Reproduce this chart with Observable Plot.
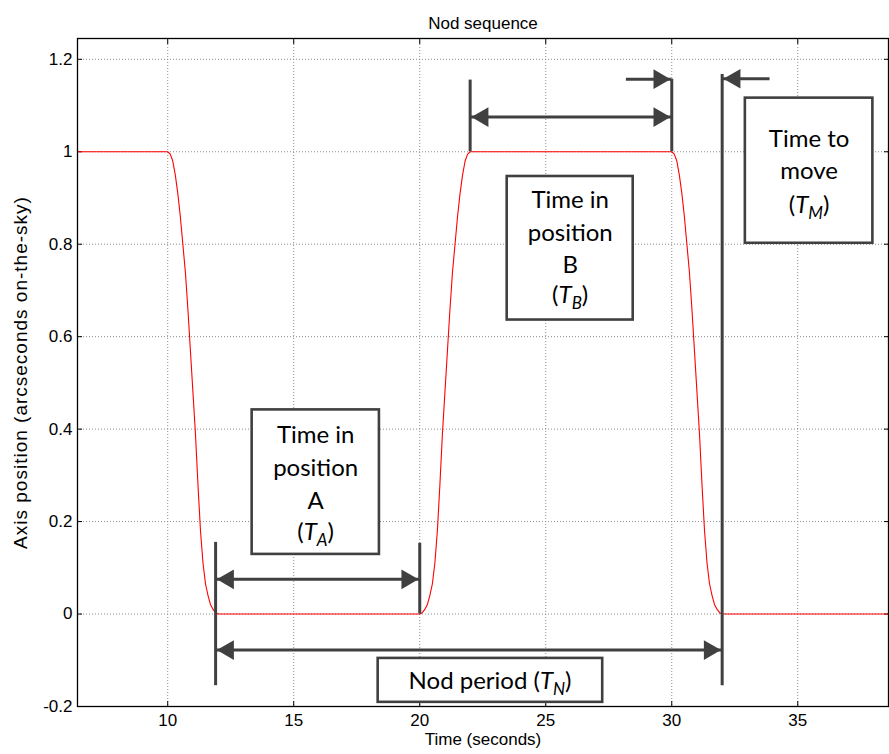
<!DOCTYPE html>
<html><head><meta charset="utf-8">
<script src="https://cdn.jsdelivr.net/npm/d3@7"></script>
<script src="https://cdn.jsdelivr.net/npm/@observablehq/plot@0.6"></script>
<style>body{margin:0;background:#fff;} #chart svg{display:block}</style>
</head><body><div id="chart"></div>
<script>
const title = "Nod sequence";
const xLabel = "Time (seconds)";
const yLabel = "Axis position (arcseconds on-the-sky)";
const xTicks = [10, 15, 20, 25, 30, 35];
const yTicks = [-0.2, 0, 0.2, 0.4, 0.6, 0.8, 1, 1.2];
const yTickLabels = ["-0.2", "0", "0.2", "0.4", "0.6", "0.8", "1", "1.2"];
const xDomain = [6.42, 38.6];
const yDomain = [-0.2, 1.245];

// nod curve (time, position)
const nodTime = [6.42,
  10.0,10.1,10.2,10.3,10.4,10.5,10.6,10.7,10.8,10.9,11.0,11.1,11.2,11.3,11.4,11.5,11.6,11.7,11.8,11.9,12.0,
  20.0,20.1,20.2,20.3,20.4,20.5,20.6,20.7,20.8,20.9,21.0,21.1,21.2,21.3,21.4,21.5,21.6,21.7,21.8,21.9,22.0,
  30.0,30.1,30.2,30.3,30.4,30.5,30.6,30.7,30.8,30.9,31.0,31.1,31.2,31.3,31.4,31.5,31.6,31.7,31.8,31.9,32.0,
  38.6];
const nodPos = [1,
  1,0.995,0.98,0.95,0.91,0.86,0.8,0.74,0.66,0.57,0.48,0.39,0.28,0.18,0.11,0.065,0.04,0.02,0.01,0.003,0,
  0,0.003,0.01,0.02,0.04,0.065,0.11,0.18,0.28,0.39,0.48,0.57,0.66,0.74,0.8,0.86,0.91,0.95,0.98,0.995,1,
  1,0.995,0.98,0.95,0.91,0.86,0.8,0.74,0.66,0.57,0.48,0.39,0.28,0.18,0.11,0.065,0.04,0.02,0.01,0.003,0,
  0];

// annotation: vertical marker bars
const barX  = [11.9, 20, 22, 30, 32];
const barY1 = [-0.155, 0, 1.0, 1.0, -0.155];
const barY2 = [0.155, 0.153, 1.155, 1.157, 1.167];

// annotation: horizontal arrows
const arrowX1 = [11.9, 11.9, 22, 28.2, 33.9];
const arrowX2 = [20, 32, 30, 30, 32];
const arrowY  = [0.075, -0.078, 1.075, 1.157, 1.158];
const arrowStartHead = [true, true, true, false, false];
const arrowEndHead   = [true, true, true, true, true];

// annotation: boxes
const boxX1 = [13.35, 23.47, 32.92, 18.35];
const boxX2 = [18.40, 28.47, 37.98, 27.26];
const boxY1 = [0.129, 0.636, 0.802, -0.191];
const boxY2 = [0.4416, 0.9465, 1.116, -0.096];

// annotation: box texts
const labelText = ["Time in","position","A","(T_A)",
                   "Time in","position","B","(T_B)",
                   "Time to","move","(T_M)",
                   "Nod period (T_N)"];
const labelX = [15.87,15.87,15.87,15.87, 25.97,25.97,25.97,25.97, 35.45,35.45,35.45, 22.79];
const labelY = [0.3874,0.3152,0.2446,0.1766, 0.896,0.824,0.754,0.690, 1.028,0.957,0.885, -0.145];

// tables
const curve = nodTime.map((t, i) => ({t, p: nodPos[i]}));
const bars = barX.map((x, i) => ({x, y1: barY1[i], y2: barY2[i]}));
const arrows = arrowX1.map((x1, i) => ({x1, x2: arrowX2[i], y: arrowY[i]}));
const heads = [];
arrows.forEach((a, i) => {
  const dir = Math.sign(a.x2 - a.x1);
  if (arrowEndHead[i]) heads.push({x: a.x2, y: a.y, dir});
  if (arrowStartHead[i]) heads.push({x: a.x1, y: a.y, dir: -dir});
});
const boxes = boxX1.map((x1, i) => ({x1, x2: boxX2[i], y1: boxY1[i], y2: boxY2[i]}));
const labels = labelText.map((s, i) => ({s, x: labelX[i], y: labelY[i]}));

const dark = "#404040";
const gridStyle = {stroke: "#8c8c8c", strokeOpacity: 1, strokeDasharray: "1,2", strokeWidth: 1};
const annFont = "Lato, 'Open Sans', sans-serif";

const chart = Plot.plot({
  width: 889, height: 754,
  marginLeft: 77, marginRight: 1, marginTop: 38, marginBottom: 48,
  style: {fontFamily: "'Liberation Sans', Arial, sans-serif", fontSize: "17px", background: "white", color: "black"},
  x: {domain: xDomain},
  y: {domain: yDomain},
  marks: [
    Plot.gridX(xTicks, gridStyle),
    Plot.gridY(yTicks, gridStyle),
    Plot.axisX({ticks: xTicks, tickSize: 0, tickPadding: 7, label: null, fontSize: 17}),
    Plot.axisY({ticks: yTicks, tickSize: 0, tickPadding: 5, label: null, fontSize: 17,
      tickFormat: (d) => yTickLabels[yTicks.indexOf(d)] ?? d}),
    Plot.axisX({ticks: xTicks, anchor: "bottom", tickSize: -5, tickFormat: () => "", label: null}),
    Plot.axisX({ticks: xTicks, anchor: "top", tickSize: -5, tickFormat: () => "", label: null}),
    Plot.axisY({ticks: yTicks, anchor: "left", tickSize: -5, tickFormat: () => "", label: null}),
    Plot.axisY({ticks: yTicks, anchor: "right", tickSize: -5, tickFormat: () => "", label: null}),
    Plot.line(curve, {x: "t", y: "p", stroke: "#ff0000", strokeWidth: 1.1, clip: true}),
    Plot.rect(boxes, {x1: "x1", x2: "x2", y1: "y1", y2: "y2", fill: "white", stroke: dark, strokeWidth: 2.6}),
    Plot.ruleX(bars, {x: "x", y1: "y1", y2: "y2", stroke: dark, strokeWidth: 3}),
    Plot.ruleY(arrows, {y: "y", x1: "x1", x2: "x2", stroke: dark, strokeWidth: 3}),
    Plot.dot(heads.filter(d => d.dir > 0), {x: "x", y: "y", symbol: "triangle", r: 7.3, rotate: 90, fill: dark, dx: -12.6}),
    Plot.dot(heads.filter(d => d.dir < 0), {x: "x", y: "y", symbol: "triangle", r: 7.3, rotate: -90, fill: dark, dx: 12.6}),
    Plot.text(labels, {x: "x", y: "y", text: "s", fontSize: 24, fontFamily: annFont, fill: "black"}),
    Plot.frame({stroke: "black", strokeWidth: 1.3}),
    Plot.text([title], {frameAnchor: "top", dy: -22, fontSize: 17, fill: "black"}),
    Plot.text([xLabel], {frameAnchor: "bottom", dy: 38, fontSize: 17, fill: "black"}),
    Plot.text([yLabel], {frameAnchor: "left", textAnchor: "middle", dx: -57, rotate: -90, fontSize: 19, fill: "black"})
  ]
});

// italic T with subscript letter
d3.select(chart).selectAll("text").each(function () {
  const s = this.textContent;
  const m = s.match(/^(.*)\(T_([A-Z])\)$/);
  if (!m) return;
  const el = d3.select(this);
  el.selectAll("*").remove();
  el.text(null);
  el.append("tspan").text(m[1] + "(");
  el.append("tspan").attr("font-style", "italic").text("T");
  el.append("tspan").attr("font-style", "italic").attr("font-size", 17).attr("dy", 6).text(m[2]);
  el.append("tspan").attr("dy", -6).text(")");
});

// stretch y label to reference length
d3.select(chart).selectAll("text").filter(function () { return this.textContent === yLabel; })
  .attr("letter-spacing", "1px");

document.getElementById("chart").append(chart);
</script>
</body></html>
